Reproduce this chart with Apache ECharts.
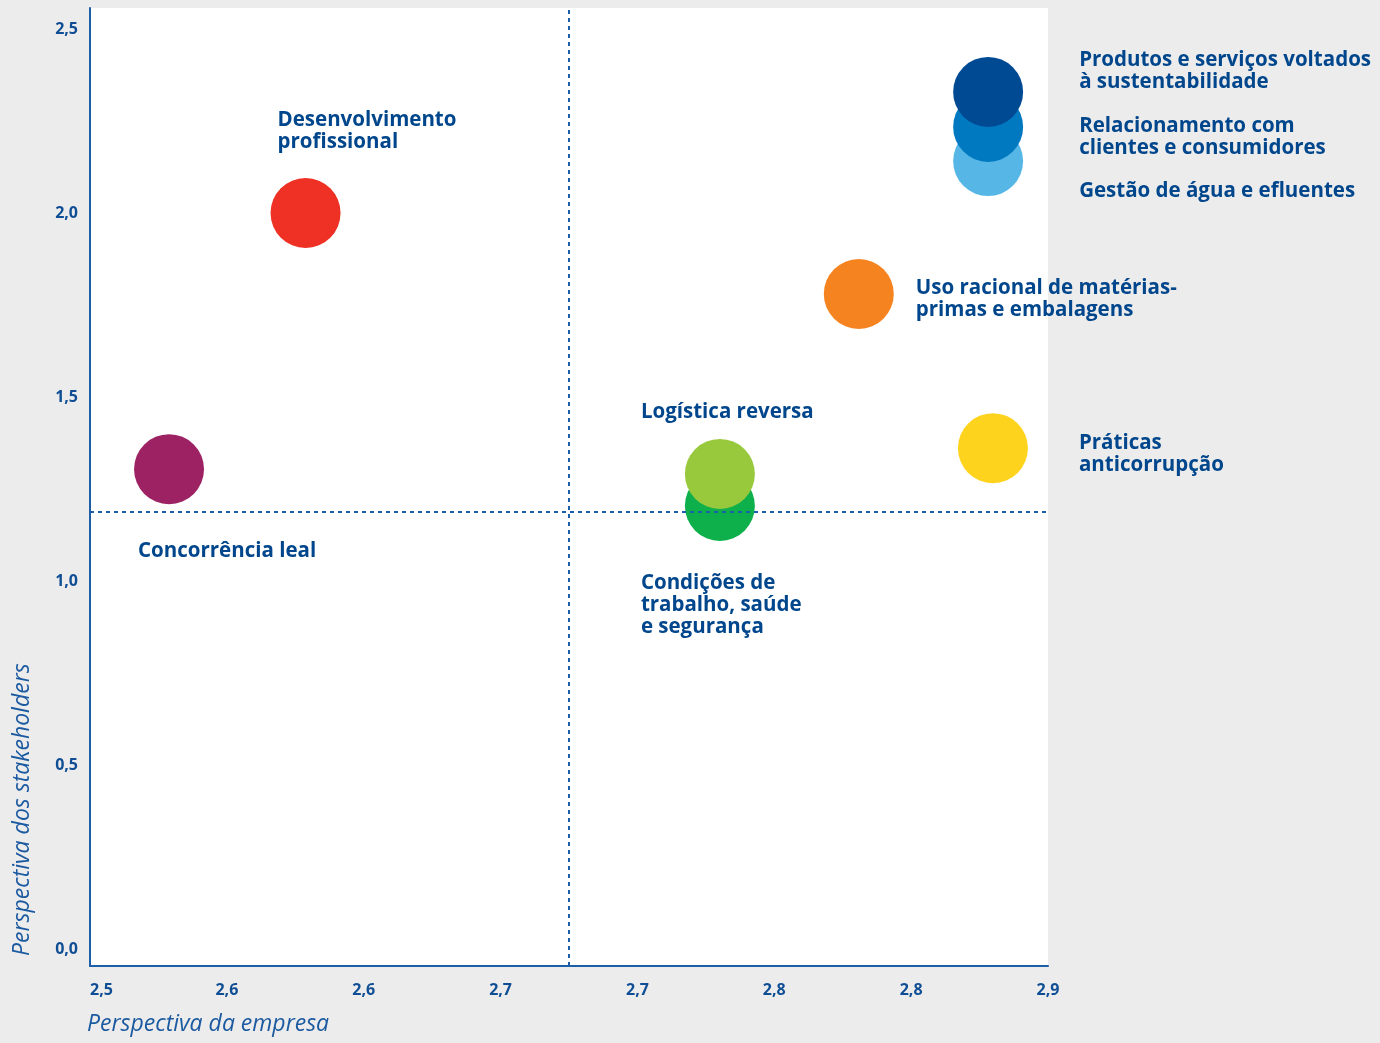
<!DOCTYPE html>
<html>
<head>
<meta charset="utf-8">
<script src="https://cdn.jsdelivr.net/npm/echarts@6/dist/echarts.min.js"></script>
<style>
	html, body { margin: 0; padding: 0; background: #ececec; }
	#main { width: 1380px; height: 1043px; }
</style>
</head>
<body>
<div id="main"></div>
<script>
	// temas materiais (ordem = ordem de desenho)
	var temas = [
		'Desenvolvimento\nprofissional',
		'Concorrência leal',
		'Condições de\ntrabalho, saúde\ne segurança',
		'Logística reversa',
		'Uso racional de matérias-\nprimas e embalagens',
		'Práticas\nanticorrupção',
		'Gestão de água e efluentes',
		'Relacionamento com\nclientes e consumidores',
		'Produtos e serviços voltados\nà sustentabilidade'
	];
	var perspectivaEmpresa = [2.590, 2.533, 2.763, 2.763, 2.821, 2.877, 2.875, 2.875, 2.875];
	var perspectivaStakeholders = [2.0, 1.304, 1.204, 1.291, 1.780, 1.361, 2.141, 2.234, 2.329];
	var xTickLabels = ['2,5', '2,6', '2,6', '2,7', '2,7', '2,8', '2,8', '2,9'];
	var yTickLabels = ['0,0', '0,5', '1,0', '1,5', '2,0', '2,5'];
	var corteEmpresa = 2.70;
	var corteStakeholders = 1.1875;

	// estilos
	var cores = ['#ee3124', '#9c2263', '#0db04b', '#98c93c', '#f58420', '#fed31e', '#56b7e6', '#0079c1', '#004a93'];
	// [dx, dy, align, verticalAlign] a partir do centro da bolha
	var rotulos = [
		[-28, -104, 'left', 'top'],
		[-31, 82, 'left', 'middle'],
		[-79, 66, 'left', 'top'],
		[-79, -62, 'left', 'middle'],
		[57, 5, 'left', 'middle'],
		[86, 6, 'left', 'middle'],
		[91, 30, 'left', 'middle'],
		[91, 10, 'left', 'middle'],
		[91, -21, 'left', 'middle']
	];
	var azul = '#00468c';

	var xMin = 2.5, xMax = 2.9;
	var xTicks = xTickLabels.map(function(l, i) { return xMin + i * (xMax - xMin) / (xTickLabels.length - 1); });
	var yTicks = yTickLabels.map(function(l) { return parseFloat(l.replace(',', '.')); });

	var dados = temas.map(function(nome, i) {
		return {
			name: nome,
			value: [perspectivaEmpresa[i], perspectivaStakeholders[i]],
			itemStyle: { color: cores[i], opacity: 1 },
			label: {
				show: true,
				position: 'inside',
				offset: [rotulos[i][0], rotulos[i][1]],
				align: rotulos[i][2],
				verticalAlign: rotulos[i][3]
			}
		};
	});

	var chart = echarts.init(document.getElementById('main'));
	var option = {
		backgroundColor: '#ececec',
		animation: false,
		grid: {
			left: 90, top: 8, right: 332, bottom: 77,
			show: true, backgroundColor: '#ffffff', borderWidth: 0
		},
		xAxis: {
			type: 'value',
			min: xMin, max: xMax,
			splitLine: { show: false },
			axisLine: { show: true, onZero: false, lineStyle: { color: '#1d5ea8', width: 2 } },
			axisTick: { show: false },
			axisLabel: {
				customValues: xTicks,
				margin: 16,
				color: '#0f4e94',
				fontFamily: 'Open Sans',
				fontWeight: 'bold',
				fontSize: 16,
				alignMinLabel: 'left',
				formatter: function(v) {
					var idx = 0, best = Infinity;
					xTicks.forEach(function(t, i) { if (Math.abs(t - v) < best) { best = Math.abs(t - v); idx = i; } });
					return xTickLabels[idx];
				}
			}
		},
		yAxis: {
			type: 'value',
			min: -0.046, max: 2.557,
			splitLine: { show: false },
			axisLine: { show: true, onZero: false, lineStyle: { color: '#1d5ea8', width: 2 } },
			axisTick: { show: false },
			axisLabel: {
				customValues: yTicks,
				margin: 12,
				color: '#0f4e94',
				fontFamily: 'Open Sans',
				fontWeight: 'bold',
				fontSize: 16,
				formatter: function(v) { return v.toFixed(1).replace('.', ','); }
			}
		},
		graphic: [
			{
				type: 'text', left: 87, top: 1013,
				style: { text: 'Perspectiva da empresa', fill: '#1b5aa0', font: 'italic 23px "Open Sans"' }
			},
			{
				type: 'text', x: 11, y: 956, rotation: Math.PI / 2,
				style: { text: 'Perspectiva dos stakeholders', fill: '#1b5aa0', font: 'italic 23px "Open Sans"', align: 'left', verticalAlign: 'top' }
			}
		],
		series: [{
			type: 'scatter',
			symbolSize: 70,
			clip: false,
			data: dados,
			label: {
				formatter: '{b}',
				color: azul,
				fontFamily: 'Open Sans',
				fontWeight: 'bold',
				fontSize: 20.5,
				lineHeight: 22
			},
			emphasis: { disabled: true },
			markLine: {
				silent: true,
				symbol: 'none',
				label: { show: false },
				lineStyle: { color: '#1d5ea8', type: [4, 4], width: 2 },
				data: [
					{ xAxis: corteEmpresa },
					[{ coord: [xMin, corteStakeholders] }, { coord: [xMax, corteStakeholders] }]
				]
			}
		}]
	};
	chart.setOption(option);
</script>
</body>
</html>
